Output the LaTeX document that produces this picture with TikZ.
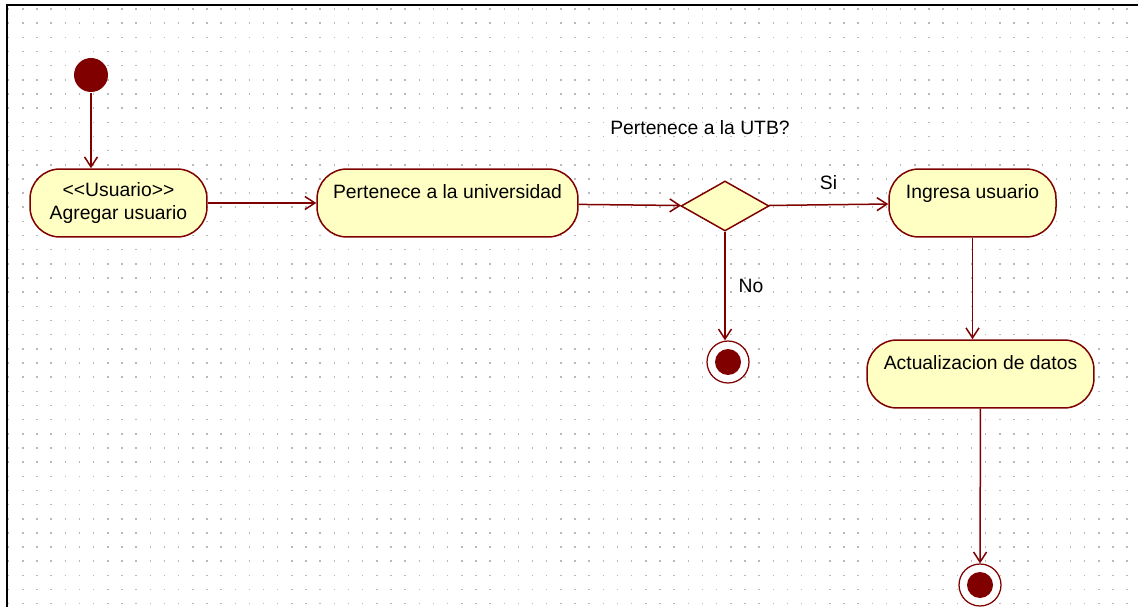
\documentclass[tikz,border=0pt]{standalone}
\usepackage{fontspec}
\setmainfont{Liberation Sans}
\usetikzlibrary{arrows.meta,shapes.geometric}
\definecolor{umlred}{RGB}{128,0,0}
\definecolor{umlfill}{RGB}{255,255,196}
\definecolor{griddot}{RGB}{185,185,185}

\begin{document}
\begin{tikzpicture}[x=0.02cm,y=-0.02cm,font=\fontsize{11}{13}\selectfont,
    line width=0.03cm,>={Straight Barb[length=0.2cm,width=0.26cm]}]
  \tikzstyle{action}=[draw=umlred,fill=umlfill,rounded corners=0.6cm,minimum height=1.36cm,align=center,inner sep=2pt]
  \tikzstyle{decision}=[diamond,draw=umlred,fill=umlfill,minimum width=1.76cm,minimum height=1cm,inner sep=0pt]
  \tikzstyle{initial}=[circle,fill=umlred,minimum size=0.68cm,inner sep=0pt]
  \tikzstyle{final}=[circle,draw=umlred,line width=0.025cm,fill=white,minimum size=0.84cm,inner sep=0pt,
    path picture={\fill[umlred] (path picture bounding box.center) circle (0.26cm);}]
  \tikzstyle{flow}=[draw=umlred,->]

  \useasboundingbox (0,0) rectangle (1138,607);
  \fill[white] (0,0) rectangle (1138,607);
  % dotted grid
  \foreach \r [evaluate=\r as \yy using 9+\r*14.16] in {0,...,42}
    \draw[griddot,line width=0.03cm,dash pattern=on 0.03cm off 0.2532cm] (8,\yy) -- (1132,\yy);
  \draw[black,line width=0.04cm] (7,607) -- (7,5) -- (1138,5);

  \node[initial] (start) at (91,75) {};
  \node[action,minimum width=3.54cm] (act_1) at (118.5,203) {<{}<Usuario>{}>\\Agregar usuario};
  \node[action,minimum width=5.22cm] (act_2) at (447.5,203) {Pertenece a la universidad\\\mbox{}};
  \node[decision] (dec) at (725,206) {};
  \node (q_text) at (700,128) {Pertenece a la UTB?};
  \node[action,minimum width=3.34cm] (act_3) at (972.5,203) {Ingresa usuario\\\mbox{}};
  \node[final] (end_1) at (728,362) {};
  \node[action,minimum width=4.54cm] (act_4) at (980.5,374) {Actualizacion de datos\\\mbox{}};
  \node[final] (end_2) at (980,585) {};

  \draw[flow] (start) -- (start |- act_1.north);
  \draw[flow] (act_1) -- (act_2);
  \draw[flow] (act_2) -- (dec);
  \draw[flow] (dec) -- node[above,yshift=5pt] (lbl_si) {Si} (act_3);
  \draw[flow] (dec) -- node[right=4pt] (lbl_no) {No} (dec |- end_1.north);
  \draw[flow] (act_3) -- (act_3 |- act_4.north);
  \draw[flow] (act_4) -- (end_2);
\end{tikzpicture}
\end{document}
